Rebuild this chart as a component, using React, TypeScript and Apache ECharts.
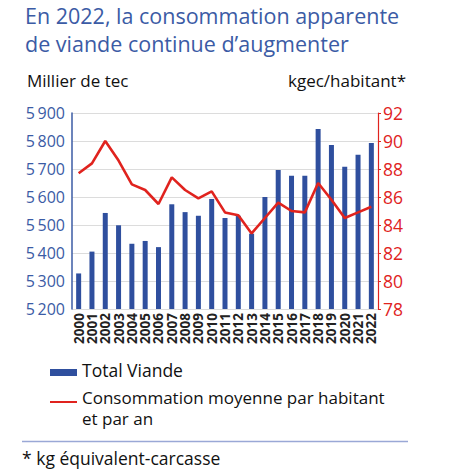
import React, { useEffect, useRef } from "react";
import * as echarts from "echarts";

const years = [
  "2000", "2001", "2002", "2003", "2004", "2005", "2006", "2007", "2008", "2009", "2010", "2011",
  "2012", "2013", "2014", "2015", "2016", "2017", "2018", "2019", "2020", "2021", "2022",
];
const totalViande = [
  5327, 5405, 5543, 5499, 5433, 5443, 5421, 5574, 5546, 5533, 5593, 5525,
  5533, 5469, 5600, 5696, 5676, 5676, 5843, 5786, 5708, 5751, 5793,
];
const consoMoyenne = [
  87.7, 88.4, 90.0, 88.6, 86.9, 86.5, 85.5, 87.4, 86.5, 85.9, 86.4, 84.9,
  84.7, 83.4, 84.5, 85.6, 85.0, 84.9, 87.0, 85.8, 84.5, 84.9, 85.3,
];
const seriesNames = ["Total Viande", "Consommation moyenne par habitant\net par an"];
const titleLines = ["En 2022, la consommation apparente", "de viande continue d\u2019augmenter"];
const leftUnit = "Millier de tec";
const rightUnit = "kgec/habitant*";
const footnote = "* kg \u00e9quivalent-carcasse";

const BLUE = "#3b5ba5";
const BAR = "#2f4f9e";
const RED = "#e0231e";
const FONT = "'Open Sans', sans-serif";

export default function App() {
  const ref = useRef<HTMLDivElement>(null);
  useEffect(() => {
    const chart = echarts.init(ref.current!, null, { renderer: "svg" });
    const lineName = seriesNames[1].split("\n");
    chart.setOption({
      animation: false,
      textStyle: { fontFamily: FONT },
      grid: { left: 72, right: 96, top: 113, bottom: 165, containLabel: false },
      xAxis: {
        type: "category",
        data: years,
        axisLine: { show: false },
        axisTick: { show: false },
        axisLabel: {
          rotate: 90,
          interval: 0,
          fontSize: 13.5,
          fontWeight: "bold",
          color: "#222",
          margin: 4,
          fontFamily: FONT,
        },
      },
      yAxis: [
        {
          type: "value",
          min: 5200,
          max: 5900,
          interval: 100,
          axisLine: { show: true, lineStyle: { color: BLUE, width: 1.5 } },
          axisTick: { show: false },
          axisLabel: {
            color: BLUE,
            fontSize: 16,
            margin: 7,
            fontFamily: FONT,
            formatter: (v: number) => {
              const s = String(v);
              return s.slice(0, s.length - 3) + "\u2009" + s.slice(-3);
            },
          },
          splitLine: { show: true, lineStyle: { color: "#dcdcdc", width: 1 } },
        },
        {
          type: "value",
          min: 78,
          max: 92,
          interval: 2,
          position: "right",
          axisLine: { show: true, lineStyle: { color: RED, width: 1.2 } },
          axisTick: { show: true, length: 3, lineStyle: { color: RED } },
          axisLabel: { color: RED, fontSize: 17.5, margin: 5, fontFamily: FONT },
          splitLine: { show: false },
        },
      ],
      series: [
        {
          name: seriesNames[0],
          type: "bar",
          data: totalViande,
          barWidth: 5,
          itemStyle: { color: BAR },
          yAxisIndex: 0,
        },
        {
          name: seriesNames[1],
          type: "line",
          data: consoMoyenne,
          yAxisIndex: 1,
          symbol: "none",
          lineStyle: { color: RED, width: 2.6 },
          itemStyle: { color: RED },
        },
      ],
      graphic: [
        {
          type: "text",
          left: 25,
          top: 4,
          style: { text: titleLines[0], fill: BLUE, font: `21.5px ${FONT}` },
        },
        {
          type: "text",
          left: 25,
          top: 32,
          style: { text: titleLines[1], fill: BLUE, font: `21.5px ${FONT}` },
        },
        {
          type: "text",
          left: 27,
          top: 72,
          style: { text: leftUnit, fill: "#111", font: `17px ${FONT}` },
        },
        {
          type: "text",
          right: 68,
          top: 72,
          style: { text: rightUnit, fill: "#111", font: `17px ${FONT}`, textAlign: "right" },
        },
        {
          type: "rect",
          shape: { x: 50, y: 369, width: 27, height: 7 },
          style: { fill: BAR },
        },
        {
          type: "text",
          left: 82,
          top: 361,
          style: { text: seriesNames[0], fill: "#111", font: `17.5px ${FONT}` },
        },
        {
          type: "line",
          shape: { x1: 50, y1: 402, x2: 77, y2: 402 },
          style: { stroke: RED, lineWidth: 2 },
        },
        {
          type: "text",
          left: 82,
          top: 389,
          style: { text: lineName[0], fill: "#111", font: `17px ${FONT}` },
        },
        {
          type: "text",
          left: 82,
          top: 410,
          style: { text: lineName[1], fill: "#111", font: `17px ${FONT}` },
        },
        {
          type: "line",
          shape: { x1: 22, y1: 441.5, x2: 408, y2: 441.5 },
          style: { stroke: "#9aa8d6", lineWidth: 1.5 },
        },
        {
          type: "text",
          left: 22,
          top: 449,
          style: { text: footnote, fill: "#111", font: `17.5px ${FONT}` },
        },
      ],
    });
    return () => chart.dispose();
  }, []);
  return (
    <div
      ref={ref}
      style={{ position: "fixed", left: 0, top: 0, width: 474, height: 474, background: "#fff" }}
    />
  );
}
